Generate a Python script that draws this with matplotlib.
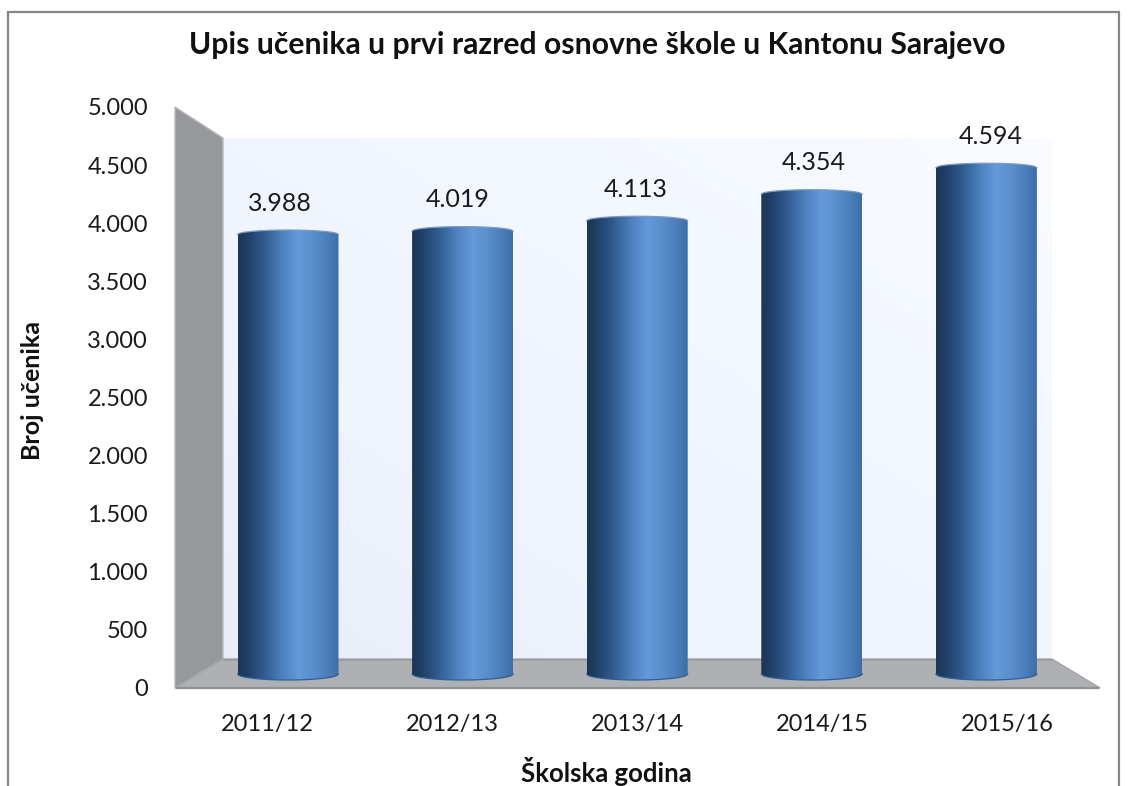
import numpy as np
import matplotlib
matplotlib.use("Agg")
import matplotlib.pyplot as plt
from matplotlib.patches import Polygon, PathPatch
from matplotlib.path import Path
from matplotlib.colors import LinearSegmentedColormap

years = ["2011/12", "2012/13", "2013/14", "2014/15", "2015/16"]
students = [3988, 4019, 4113, 4354, 4594]
y_ticks = [0, 500, 1000, 1500, 2000, 2500, 3000, 3500, 4000, 4500, 5000]
title = "Upis učenika u prvi razred osnovne škole u Kantonu Sarajevo"
xlabel = "Školska godina"
ylabel = "Broj učenika"

W, H = 1128, 786
FONT = "Lato"
TXT = "#1a1a1a"


def rect(l, t, r, b):
    return [l / W, 1 - b / H, (r - l) / W, (b - t) / H]


def fmt(v):
    return f"{v:,}".replace(",", ".")


fig = plt.figure(figsize=(W / 100, H / 100), dpi=100, facecolor="white")

# scenery, in pixel units
bg = fig.add_axes([0, 0, 1, 1], zorder=0)
bg.axis("off")
bg.plot([8, 8, 1119, 1119], [786, 12, 12, 786], color="#868686", lw=1.6, solid_joinstyle="miter")

wall_cm = LinearSegmentedColormap.from_list("w", ["#e8edf8", "#eff4fd", "#f3f7ff", "#f9fbff"])
gx, gy = np.meshgrid(np.linspace(0, 1, 80), np.linspace(1, 0, 80))
bg.imshow((gx * 0.6 + gy * 0.6), cmap=wall_cm, vmin=0, vmax=1.2, extent=[223, 1052, 660, 138],
          aspect="auto", zorder=1, origin="upper")
bg.set_xlim(0, W)
bg.set_ylim(H, 0)

bg.add_patch(Polygon([(175, 107), (223, 138), (223, 659), (175, 688)], closed=True,
                     fc="#97989b", ec="#b9babc", lw=1.0, zorder=2))
bg.add_patch(Polygon([(175, 688), (223, 659), (1052, 659), (1100, 688)], closed=True,
                     fc="#aeb0b3", ec="#a3a5a8", lw=1.0, zorder=3))
bg.plot([177, 1098], [687.5, 687.5], color="#8f9194", lw=1.6, zorder=4)
bg.plot([223, 1052], [659.5, 659.5], color="#9a9c9f", lw=1.2, zorder=4)

# bars, value axis at the depth of the columns
PX_PER_UNIT = 0.1102
Y_MIN = -14 / PX_PER_UNIT
Y_MAX = 674 / PX_PER_UNIT
ax = fig.add_axes(rect(200.7, 0, 1073.7, 688), zorder=2)
ax.patch.set_alpha(0)
ax.axis("off")

bar_cm = LinearSegmentedColormap.from_list(
    "cyl",
    [(0.0, "#1c3554"), (0.08, "#1f3d62"), (0.25, "#2f5a8e"), (0.45, "#4f83bf"),
     (0.6, "#6499da"), (0.72, "#5c91d0"), (0.9, "#4a7db8"), (1.0, "#3d6ea8")],
)
half = 50.5 / 174.6
bot_h = 6.0 / PX_PER_UNIT
top_h = 4.5 / PX_PER_UNIT
K = 0.5523
for i, v in enumerate(students):
    l, r = i - half, i + half
    k = half * K
    verts = [(l, v), (l, v + top_h * K), (i - k, v + top_h), (i, v + top_h),
             (i + k, v + top_h), (r, v + top_h * K), (r, v),
             (r, 0), (r, -bot_h * K), (i + k, -bot_h), (i, -bot_h),
             (i - k, -bot_h), (l, -bot_h * K), (l, 0), (l, v)]
    codes = [Path.MOVETO, Path.CURVE4, Path.CURVE4, Path.CURVE4, Path.CURVE4, Path.CURVE4, Path.CURVE4,
             Path.LINETO, Path.CURVE4, Path.CURVE4, Path.CURVE4, Path.CURVE4, Path.CURVE4, Path.CURVE4,
             Path.CLOSEPOLY]
    shape = PathPatch(Path(verts, codes), fc="none", ec="none", transform=ax.transData)
    ax.add_patch(shape)
    img = ax.imshow(np.linspace(0, 1, 256)[None, :], cmap=bar_cm, vmin=0, vmax=1, aspect="auto",
                    extent=[l, r, -bot_h, v + top_h], zorder=3, interpolation="bilinear")
    img.set_clip_path(shape)
    xs = np.linspace(l, r, 60)
    arc = np.sqrt(np.clip(1 - ((xs - i) / half) ** 2, 0, 1))
    ax.plot(xs, v + top_h * arc, color="#7d9cc0", lw=0.9, zorder=4)
    ax.plot(xs, -bot_h * arc, color="#2f5f9a", lw=0.9, zorder=4)
ax.set_xlim(-0.5, 4.5)
ax.set_ylim(Y_MIN, Y_MAX)

# data labels, placed on the chart's label plane
lab = fig.add_axes(rect(191, 0, 1080, 688), zorder=3)
lab.patch.set_alpha(0)
lab.axis("off")
lab.set_xlim(-0.5, 4.5)
lab.set_ylim(Y_MIN, Y_MAX)
for i, v in enumerate(students):
    lab.annotate(fmt(v), (i, v), xytext=(0, 22.5), textcoords="offset points", ha="center",
                 va="center", fontsize=18, family=FONT, color=TXT)

# value and category axes at the front edge
front = fig.add_axes(rect(175, 107, 1100, 688), zorder=4)
front.patch.set_alpha(0)
front.set_xlim(-0.5, 4.5)
front.set_ylim(0, 5000)
for s in front.spines.values():
    s.set_visible(False)
front.set_yticks(y_ticks, [fmt(t) for t in y_ticks])
front.set_xticks(range(len(years)), years)
front.tick_params(length=0, labelsize=17, labelcolor=TXT)
front.tick_params(axis="y", pad=19.5)
front.tick_params(axis="x", pad=18.5)
for t in front.get_xticklabels() + front.get_yticklabels():
    t.set_family(FONT)

fig.text(597 / W, 1 - 45 / H, title, ha="center", va="center", fontsize=21.7, fontweight="bold",
         family=FONT, color="#111111")
fig.text(606 / W, 1 - 771 / H, xlabel, ha="center", va="center", fontsize=18.5, fontweight="bold",
         family=FONT, color="#111111")
fig.text(32 / W, 1 - 391 / H, ylabel, ha="center", va="center", rotation=90, fontsize=18,
         fontweight="bold", family=FONT, color="#111111")

fig.savefig("out.png", dpi=100)
